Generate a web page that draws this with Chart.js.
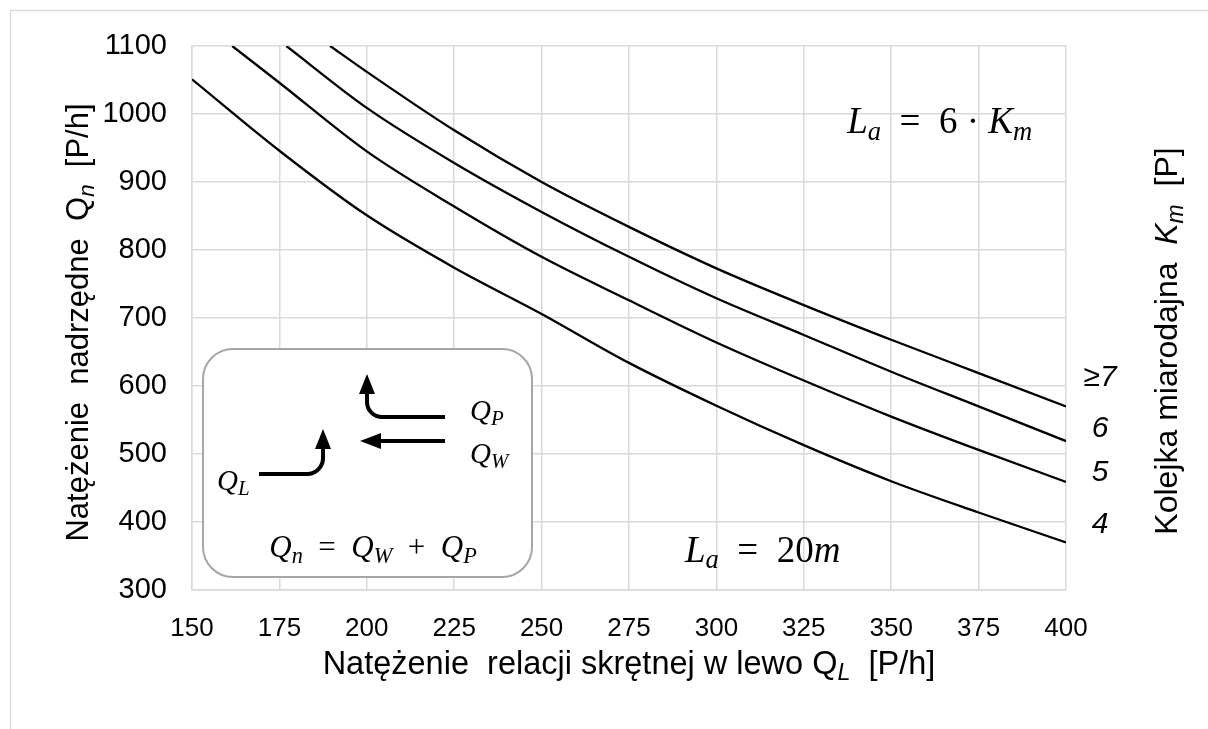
<!DOCTYPE html>
<html><head><meta charset="utf-8">
<script src="https://cdn.jsdelivr.net/npm/chart.js@4.4.0/dist/chart.umd.min.js"></script>
<style>html,body{margin:0;padding:0;background:#fff;}#wrap{width:1208px;height:729px;}</style>
</head><body><div id="wrap"><canvas id="c" width="1208" height="729"></canvas></div>
<script>
// ---- data ----
const xTickValues = [150,175,200,225,250,275,300,325,350,375,400];
const yTickValues = [300,400,500,600,700,800,900,1000,1100];

const qL_K4 = [150,175,200,225,250,275,300,325,350,375,400];
const qn_K4 = [1051,946,851,774,706,634,571,513,460,414,370];
const qL_K5 = [161.5,175,200,225,250,275,300,325,350,375,400];
const qn_K5 = [1100,1046,945,864,790,726,664,608,555,506,459];
const qL_K6 = [177,200,225,250,275,300,325,350,375,400];
const qn_K6 = [1100,1009,928,856,790,729,675,621,570,519];
const qL_K7 = [189.5,200,225,250,275,300,325,350,375,400];
const qn_K7 = [1100,1062,976,900,834,773,719,668,619,570];

const curveLabels = ['4','5','6','\u22657'];
const curveLabelValues = [396,472,538,613];

const SANS = '"Liberation Sans", Arial, sans-serif';
const SERIF = '"Liberation Serif", "Times New Roman", serif';
const EN = '\u2002';

function pts(xs, ys){ return xs.map((x,i)=>({x:x, y:ys[i]})); }
function ds(xs, ys){
  return {data: pts(xs, ys), borderColor:'#000', borderWidth:2.3, pointRadius:0,
          fill:false, cubicInterpolationMode:'monotone'};
}

function runFont(r, size, fam){
  const s = r.sub ? size*0.72 : size;
  return (r.it ? 'italic ' : '') + s.toFixed(1) + 'px ' + (r.fam || fam);
}
function drawRuns(ctx, runs, x, y, size, fam, align){
  let total = 0;
  const ws = runs.map(r => { ctx.font = runFont(r,size,fam); const w = ctx.measureText(r.t).width; total += w; return w; });
  let cx = align === 'center' ? x - total/2 : (align === 'right' ? x - total : x);
  ctx.textAlign = 'left'; ctx.textBaseline = 'alphabetic';
  runs.forEach((r,i) => { ctx.font = runFont(r,size,fam); ctx.fillText(r.t, cx, y + (r.sub ? size*0.18 : 0)); cx += ws[i]; });
  return total;
}

const decor = {
  id:'decor',
  beforeDraw(chart){
    const ctx = chart.ctx;
    ctx.save();
    ctx.fillStyle = '#fff';
    ctx.fillRect(0,0,chart.width,chart.height);
    ctx.strokeStyle = '#d9d9d9'; ctx.lineWidth = 1.3;
    ctx.beginPath(); ctx.moveTo(10.5, chart.height); ctx.lineTo(10.5,10.5); ctx.lineTo(chart.width,10.5); ctx.stroke();
    ctx.restore();
  },
  beforeDatasetsDraw(chart){
    const ctx = chart.ctx, xs = chart.scales.x, ys = chart.scales.y;
    const L = xs.getPixelForValue(153.15), T = ys.getPixelForValue(654.4);
    const W = 329, H = 228, R = 30;
    ctx.save();
    ctx.beginPath();
    ctx.roundRect(L, T, W, H, R);
    ctx.fillStyle = '#fff'; ctx.fill();
    ctx.strokeStyle = '#a6a6a6'; ctx.lineWidth = 2; ctx.stroke();
    ctx.restore();
  },
  afterDraw(chart){
    const ctx = chart.ctx, xs = chart.scales.x, ys = chart.scales.y, ca = chart.chartArea;
    ctx.save();
    ctx.fillStyle = '#000'; ctx.strokeStyle = '#000';
    // inset contents
    const L = xs.getPixelForValue(153.15), T = ys.getPixelForValue(654.4);
    ctx.lineWidth = 4;
    // Q_L arrow
    ctx.beginPath(); ctx.moveTo(L+56, T+125); ctx.lineTo(L+104, T+125);
    ctx.arcTo(L+120, T+125, L+120, T+109, 16); ctx.lineTo(L+120, T+98); ctx.stroke();
    ctx.beginPath(); ctx.moveTo(L+120, T+80); ctx.lineTo(L+112, T+100); ctx.lineTo(L+128, T+100); ctx.closePath(); ctx.fill();
    // Q_P arrow
    ctx.beginPath(); ctx.moveTo(L+242, T+68); ctx.lineTo(L+179, T+68);
    ctx.arcTo(L+164, T+68, L+164, T+53, 15); ctx.lineTo(L+164, T+43); ctx.stroke();
    ctx.beginPath(); ctx.moveTo(L+164, T+25); ctx.lineTo(L+156, T+45); ctx.lineTo(L+172, T+45); ctx.closePath(); ctx.fill();
    // Q_W arrow
    ctx.beginPath(); ctx.moveTo(L+242, T+92); ctx.lineTo(L+175, T+92); ctx.stroke();
    ctx.beginPath(); ctx.moveTo(L+157, T+92); ctx.lineTo(L+178, T+84); ctx.lineTo(L+178, T+100); ctx.closePath(); ctx.fill();
    // inset labels
    drawRuns(ctx, [{t:'Q',it:1},{t:'L',it:1,sub:1}], L+14, T+141, 29, SERIF, 'left');
    drawRuns(ctx, [{t:'Q',it:1},{t:'P',it:1,sub:1}], L+267, T+71, 29, SERIF, 'left');
    drawRuns(ctx, [{t:'Q',it:1},{t:'W',it:1,sub:1}], L+267, T+114, 29, SERIF, 'left');
    drawRuns(ctx, [{t:'Q',it:1},{t:'n',it:1,sub:1},{t:EN+'='+EN},{t:'Q',it:1},{t:'W',it:1,sub:1},{t:EN+'+'+EN},{t:'Q',it:1},{t:'P',it:1,sub:1}],
             L+170, T+208, 31, SERIF, 'center');
    // big formulas
    drawRuns(ctx, [{t:'L',it:1},{t:'a',it:1,sub:1},{t:EN+'='+EN+'6 \u00B7 '},{t:'K',it:1},{t:'m',it:1,sub:1}],
             xs.getPixelForValue(337.4), ys.getPixelForValue(972), 37, SERIF, 'left');
    drawRuns(ctx, [{t:'L',it:1},{t:'a',it:1,sub:1},{t:EN+'='+EN+'20'},{t:'m',it:1}],
             xs.getPixelForValue(291), ys.getPixelForValue(341.6), 37, SERIF, 'left');
    // curve labels
    ctx.font = 'italic 30px ' + SANS; ctx.textAlign = 'center'; ctx.textBaseline = 'middle';
    curveLabels.forEach((t,i) => ctx.fillText(t, ca.right + 34, ys.getPixelForValue(curveLabelValues[i])));
    // x title
    drawRuns(ctx, [{t:'Natężenie  relacji skrętnej w lewo Q'},{t:'L',it:1,sub:1},{t:'  [P/h]'}],
             (ca.left+ca.right)/2, 674, 32.5, SANS, 'center');
    // left title
    ctx.save(); ctx.translate(88, 322.5); ctx.rotate(-Math.PI/2);
    drawRuns(ctx, [{t:'Natężenie  nadrzędne  Q'},{t:'n',it:1,sub:1},{t:'  [P/h]'}], 0, 0, 31, SANS, 'center');
    ctx.restore();
    // right title
    ctx.save(); ctx.translate(1177, 341); ctx.rotate(-Math.PI/2);
    drawRuns(ctx, [{t:'Kolejka miarodajna  '},{t:'K',it:1},{t:'m',it:1,sub:1},{t:'  [P]'}], 0, 0, 32, SANS, 'center');
    ctx.restore();
    ctx.restore();
  }
};

new Chart(document.getElementById('c'), {
  type:'line',
  data:{ datasets:[ ds(qL_K4,qn_K4), ds(qL_K5,qn_K5), ds(qL_K6,qn_K6), ds(qL_K7,qn_K7) ] },
  options:{
    responsive:false, animation:false, devicePixelRatio:1,
    layout:{padding:{left:0, top:46, right:142, bottom:0}},
    plugins:{legend:{display:false}, tooltip:{enabled:false}},
    scales:{
      x:{type:'linear', min:150, max:400,
         afterBuildTicks: s => { s.ticks = xTickValues.map(v => ({value:v})); },
         grid:{color:'#d9d9d9', lineWidth:1.5, drawTicks:false},
         border:{color:'#d9d9d9', width:1.5},
         ticks:{font:{family:SANS, size:26}, color:'#000', padding:23, maxRotation:0, autoSkip:false,
                callback: v => String(v)},
         afterFit: s => { s.height = 139; }},
      y:{type:'linear', min:300, max:1100,
         afterBuildTicks: s => { s.ticks = yTickValues.map(v => ({value:v})); },
         grid:{color:'#d9d9d9', lineWidth:1.5, drawTicks:false},
         border:{color:'#d9d9d9', width:1.5},
         ticks:{font:{family:SANS, size:29}, color:'#000', padding:25, autoSkip:false,
                callback: v => String(v)},
         afterFit: s => { s.width = 192; }}
    }
  },
  plugins:[decor]
});
</script></body></html>
